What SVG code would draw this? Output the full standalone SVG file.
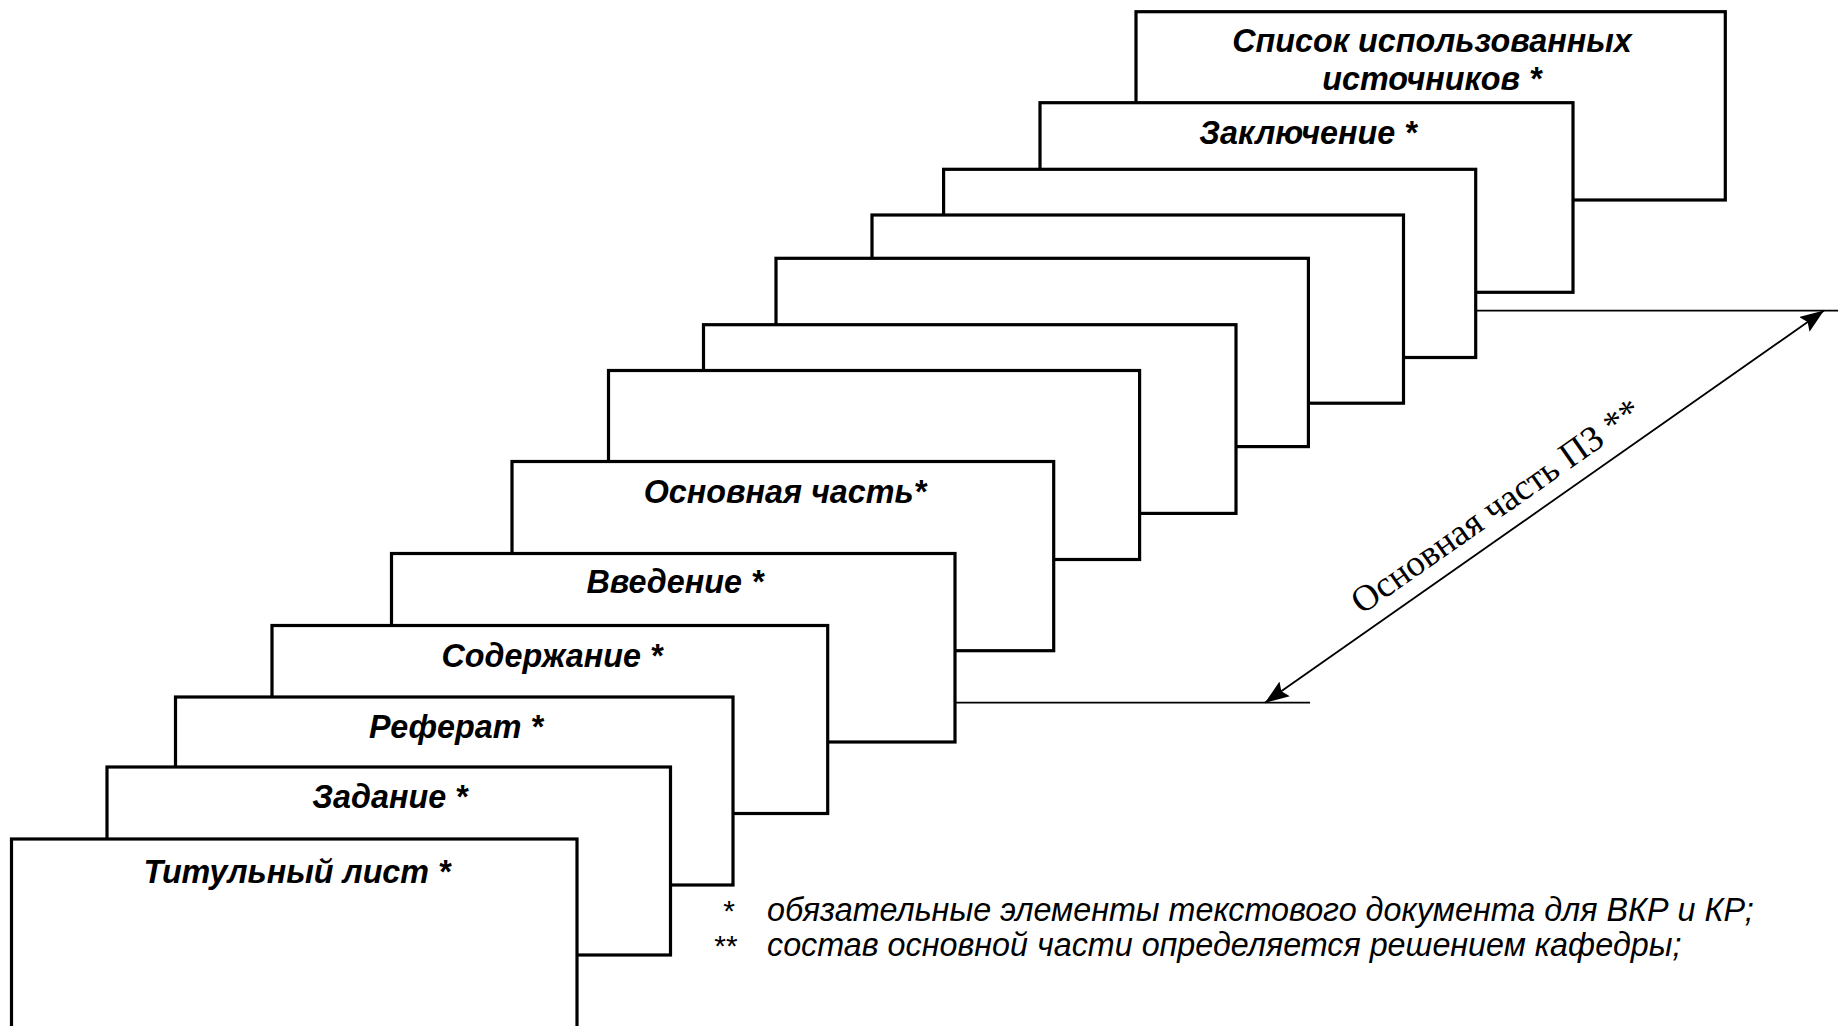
<svg xmlns="http://www.w3.org/2000/svg" width="1838" height="1026" viewBox="0 0 1838 1026">
<defs>
<style>
.box{fill:#fff;stroke:#000;stroke-width:3.2}
.lbl{font-family:"Liberation Sans",Arial,sans-serif;font-weight:bold;font-style:italic;font-size:32.3px;fill:#000;text-anchor:middle}
.thin{stroke:#000;stroke-width:1.8;fill:none}
.note{font-family:"Liberation Sans",Arial,sans-serif;font-style:italic;font-size:32.3px;fill:#000}
.star{font-family:"Liberation Sans",Arial,sans-serif;font-size:30px;fill:#000;text-anchor:middle}
.dim{font-family:"Liberation Serif","Times New Roman",serif;font-size:36.8px;fill:#000;text-anchor:middle}
</style>
<marker id="arr" viewBox="0 0 24 18" refX="24" refY="9" markerWidth="24" markerHeight="18" markerUnits="userSpaceOnUse" orient="auto-start-reverse">
<path d="M0,0 L24,9 L0,18 L4,9 z" fill="#000"/>
</marker>
</defs>
<rect width="1838" height="1026" fill="#fff"/>
<g id="n13"><rect class="box" x="1136" y="11.7" width="589.3" height="188.3"/>
<text class="lbl" x="1432" y="52">Список использованных</text>
<text class="lbl" x="1432" y="89.5">источников *</text></g>
<g id="n12"><rect class="box" x="1040" y="102.7" width="533" height="189.6"/>
<text class="lbl" x="1308" y="144">Заключение *</text></g>
<g id="n11"><rect class="box" x="943.6" y="169.3" width="532.1" height="188.2"/></g>
<g id="n10"><rect class="box" x="872" y="215" width="531.5" height="188.2"/></g>
<g id="n9"><rect class="box" x="776" y="258.3" width="532.4" height="188.3"/></g>
<g id="n8"><rect class="box" x="703.5" y="324.7" width="532.5" height="188.7"/></g>
<g id="n7"><rect class="box" x="608.5" y="370.5" width="531.1" height="189"/></g>
<g id="n6"><rect class="box" x="512" y="461.5" width="541.7" height="189.2"/>
<text class="lbl" x="785" y="503">Основная часть*</text></g>
<g id="n5"><rect class="box" x="391.5" y="553.5" width="563.5" height="188.5"/>
<text class="lbl" x="675" y="593">Введение *</text></g>
<g id="n4"><rect class="box" x="272" y="625.5" width="555.7" height="188"/>
<text class="lbl" x="552" y="667">Содержание *</text></g>
<g id="n3"><rect class="box" x="175.5" y="697" width="557.5" height="188"/>
<text class="lbl" x="456" y="738">Реферат *</text></g>
<g id="n2"><rect class="box" x="107" y="767" width="563.5" height="188"/>
<text class="lbl" x="390" y="808">Задание *</text></g>
<g id="n1"><rect class="box" x="11.5" y="839" width="565.5" height="200"/>
<text class="lbl" x="297" y="883">Титульный лист *</text></g>
<g id="connectors">
<line class="thin" x1="1476" y1="310.6" x2="1838" y2="310.6"/>
<line class="thin" x1="955" y1="702.7" x2="1310" y2="702.7"/>
<line class="thin" x1="1265" y1="702.7" x2="1824" y2="310.6" marker-start="url(#arr)" marker-end="url(#arr)"/>
</g>
<text class="dim" transform="translate(1503,516) rotate(-35.04)">Основная часть ПЗ **</text>
<g id="notes">
<text class="star" x="729" y="921">*</text>
<text class="star" x="726" y="956">**</text>
<text class="note" x="767" y="921">обязательные элементы текстового документа для ВКР и КР;</text>
<text class="note" x="767" y="956">состав основной части определяется решением кафедры;</text>
</g>
</svg>
